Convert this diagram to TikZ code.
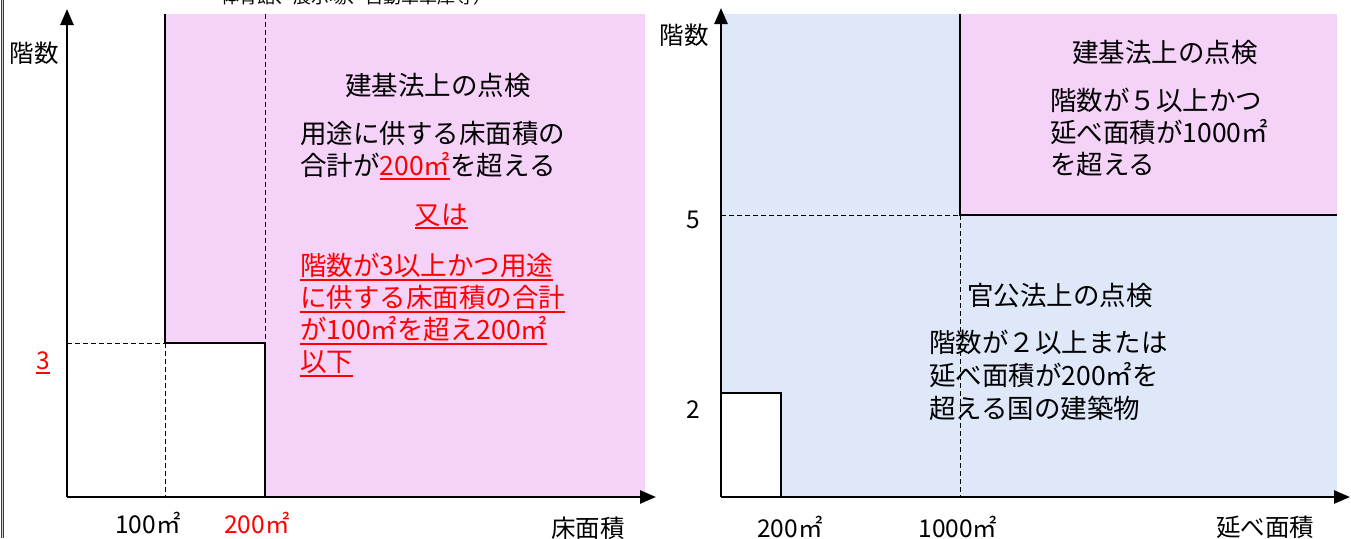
\documentclass[tikz,border=0pt]{standalone}
\usepackage{fontspec}
\setmainfont{Noto Sans CJK JP}
\usetikzlibrary{arrows.meta}
\definecolor{pinkbg}{RGB}{245,210,248}
\definecolor{bluebg}{RGB}{222,232,249}
\definecolor{redtx}{RGB}{255,0,0}
\definecolor{edgegray}{RGB}{60,60,60}
\newcommand\myunder[1]{\leavevmode\setbox0=\hbox{#1}\rlap{\rule[-5pt]{\wd0}{2pt}}\box0}
\begin{document}
\begin{tikzpicture}[x=1pt,y=-1pt,
  axis/.style={line width=2.6pt,-{Triangle[length=16pt,width=13pt]}},
  bound/.style={line width=2.6pt},
  guide/.style={line width=0.8pt,dash pattern=on 5pt off 3pt},
  lbl/.style={inner sep=0pt,font=\fontsize{24.5}{28}\selectfont},
  body/.style={inner sep=0pt,align=left,font=\fontsize{26.5}{32}\selectfont},
  red/.style={text=redtx}
]
\useasboundingbox (0,0) rectangle (1351,538);
\fill[white] (0,0) rectangle (1351,538);
% page edge
\draw[edgegray,double=gray!40,double distance=1.2pt,line width=1.1pt] (2.6,0) -- (2.6,538);
% cut-off caption
\node[inner sep=0pt,anchor=base,font=\fontsize{18}{20}\selectfont] (cap) at (356,4) {体育館、展示場、自動車車庫等）};

% ---------- left chart ----------
\coordinate (LO) at (67,497);
\coordinate (LY) at (67,9);
\coordinate (LX) at (656,497);
\fill[pinkbg] (165,14) rectangle (645,497);
\fill[white] (165,343) rectangle (265,497);
\coordinate (LA) at (165,14);
\coordinate (LB) at (165,343);
\coordinate (LC) at (265,343);
\coordinate (LD) at (265,497);
\coordinate (LE) at (265,14);
\coordinate (LF) at (165,497);
\coordinate (LG) at (67,343);
\draw[guide] (LE) -- (LC);
\draw[guide] (LB) -- (LF);
\draw[guide] (LG) -- (LB);
\draw[bound] (LA) -- (LB) -- (LC) -- (LD);
\draw[axis] (LO) -- (LY);
\draw[axis] (LO) -- (LX);

\node[lbl] (ly) at (34,53) {階数};
\node[lbl,red,anchor=base] (l3) at (43,369) {\myunder{3}};
\node[lbl] (l100) at (148,523) {100㎡};
\node[lbl,red] (l200) at (257,523) {200㎡};
\node[lbl] (lx) at (588,528) {床面積};

\node[body] (lt1) at (438,85) {建基法上の点検};
\node[body,anchor=north west] (lt2) at (300,121) {用途に供する床面積の\\合計が{\color{redtx}\myunder{200㎡}}を超える};
\node[body,red,anchor=base] (lt3) at (441,224) {\myunder{又は}};
\node[body,red,anchor=north west] (lt4) at (300,253) {\myunder{階数が3以上かつ用途}\\\myunder{に供する床面積の合計}\\\myunder{が100㎡を超え200㎡}\\\myunder{以下}};

% ---------- right chart ----------
\coordinate (RO) at (721,497);
\coordinate (RY) at (721,8);
\coordinate (RX) at (1350,497);
\fill[bluebg] (721,14) rectangle (1337,497);
\fill[pinkbg] (960,14) rectangle (1337,215);
\fill[white] (721,393) rectangle (781,497);
\coordinate (RA) at (960,14);
\coordinate (RB) at (960,215);
\coordinate (RC) at (1337,215);
\coordinate (RD) at (721,215);
\coordinate (RE) at (960,497);
\coordinate (RF) at (721,393);
\coordinate (RG) at (781,393);
\coordinate (RH) at (781,497);
\draw[guide] (RD) -- (RB);
\draw[guide] (RB) -- (RE);
\draw[bound] (RA) -- (RB) -- (RC);
\draw[line width=2pt] (RF) -- (RG) -- (RH);
\draw[axis] (RO) -- (RY);
\draw[axis] (RO) -- (RX);

\node[lbl] (ry) at (684,35) {階数};
\node[lbl] (r5) at (693,220) {5};
\node[lbl] (r2) at (693,410) {2};
\node[lbl] (r200) at (790,527) {200㎡};
\node[lbl] (r1000) at (958,527) {1000㎡};
\node[lbl] (rx) at (1265,527) {延べ面積};

\node[body] (rt1) at (1165,52) {建基法上の点検};
\node[body,anchor=north west] (rt2) at (1050,88) {階数が５以上かつ\\延べ面積が1000㎡\\を超える};
\node[body] (rt3) at (1060,295) {官公法上の点検};
\node[body,anchor=north west,font=\fontsize{26.5}{33}\selectfont] (rt4) at (929,330) {階数が２以上または\\延べ面積が200㎡を\\超える国の建築物};
\end{tikzpicture}
\end{document}
